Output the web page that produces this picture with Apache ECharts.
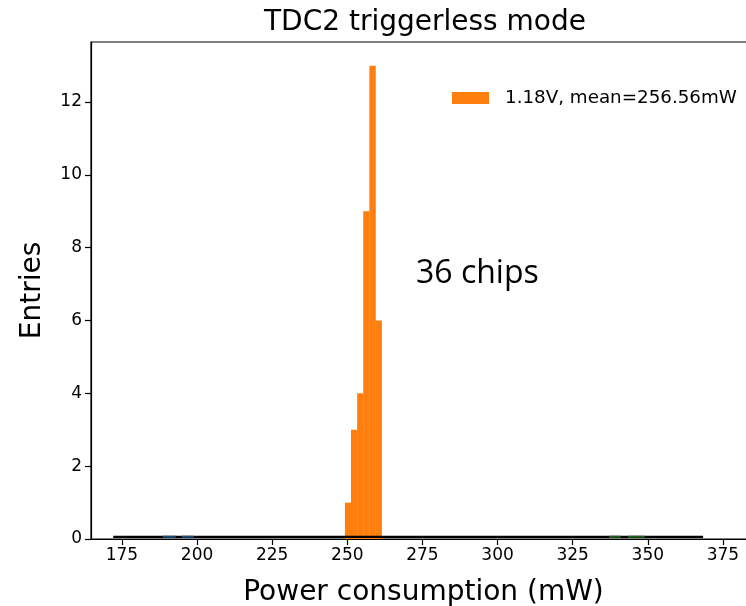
<!DOCTYPE html>
<html>
<head>
<meta charset="utf-8">
<title>TDC2 triggerless mode</title>
<script src="https://cdn.jsdelivr.net/npm/echarts@6/dist/echarts.min.js"></script>
<style>
  html, body { margin: 0; padding: 0; background: #fff; overflow: hidden; }
  #chart { width: 746px; height: 606px; }
</style>
</head>
<body>
<div id="chart"></div>
<script>
// Histogram of power consumption, 36 chips at 1.18 V
const binEdges = [249.2, 251.23, 253.27, 255.3, 257.33, 259.37, 261.4];
const binCounts = [1, 3, 4, 9, 13, 6];
const meanPower = 256.56;
const seriesName = '1.18V, mean=' + meanPower.toFixed(2) + 'mW';

// zero-count traces left along the baseline
const baselineRange = [172.1, 368.4];
const blueSegments = [[188.6, 192.9], [194.9, 198.9]];
const greenSegments = [[337.1, 341.0], [343.4, 349.0]];
const baselineLevel = 0.06;

// axis ranges and ticks
const xMin = 164.7, xMax = 386.0;
const yMin = 0, yMax = 13.65;
const xTicks = [175, 200, 225, 250, 275, 300, 325, 350, 375];
const yTicks = [0, 2, 4, 6, 8, 10, 12];

const FONT = 'DejaVu Sans';

function segmentSeries(segs, color) {
  const data = [];
  segs.forEach((s, i) => {
    if (i > 0) data.push([null, null]);
    data.push([s[0], baselineLevel], [s[1], baselineLevel]);
  });
  return {
    type: 'line', data: data, symbol: 'none', silent: true,
    connectNulls: false, z: 4,
    lineStyle: { color: color, width: 2 }
  };
}

const chart = echarts.init(document.getElementById('chart'), null, { renderer: 'canvas' });

chart.setOption({
  animation: false,
  backgroundColor: '#ffffff',
  textStyle: { fontFamily: FONT, color: '#000' },
  title: {
    text: 'TDC2 triggerless mode',
    left: 420, top: 4, textAlign: 'center',
    textStyle: { fontFamily: FONT, fontSize: 28, fontWeight: 'normal', color: '#000' }
  },
  legend: {
    data: [seriesName],
    left: 447, top: 84,
    itemWidth: 37, itemHeight: 12, itemGap: 8,
    icon: 'rect',
    textStyle: { fontFamily: FONT, fontSize: 18.3, color: '#000', padding: [0, 0, 0, 11] },
    itemStyle: { color: '#ff7f0e' }
  },
  grid: {
    left: 91, top: 42, width: 665, height: 497,
    outerBoundsMode: 'none',
    containLabel: false,
    show: true, borderColor: '#000', borderWidth: 1.2, backgroundColor: 'transparent'
  },
  xAxis: {
    type: 'value', min: xMin, max: xMax,
    name: 'Power consumption (mW)', nameLocation: 'middle', nameGap: 40,
    nameTextStyle: { fontFamily: FONT, fontSize: 28, color: '#000' },
    axisLine: { show: true, lineStyle: { color: '#000', width: 1.2 } },
    axisTick: { show: true, inside: false, length: 6, customValues: xTicks,
                lineStyle: { color: '#000', width: 1.2 } },
    axisLabel: { customValues: xTicks, margin: 8, fontFamily: FONT, fontSize: 17, color: '#000' },
    splitLine: { show: false }
  },
  yAxis: {
    type: 'value', min: yMin, max: yMax,
    name: 'Entries', nameLocation: 'middle', nameGap: 44, nameRotate: 90,
    nameTextStyle: { fontFamily: FONT, fontSize: 28, color: '#000' },
    axisLine: { show: true, lineStyle: { color: '#000', width: 1.2 } },
    axisTick: { show: true, inside: false, length: 6, customValues: yTicks,
                lineStyle: { color: '#000', width: 1.2 } },
    axisLabel: { customValues: yTicks, margin: 9, fontFamily: FONT, fontSize: 17, color: '#000' },
    splitLine: { show: false }
  },
  series: [
    {
      name: seriesName,
      type: 'custom',
      itemStyle: { color: '#ff7f0e' },
      data: binCounts.map((c, i) => [binEdges[i], binEdges[i + 1], c]),
      encode: { x: [0, 1], y: 2 },
      z: 3,
      renderItem: function (params, api) {
        const p0 = api.coord([api.value(0), 0]);
        const p1 = api.coord([api.value(1), api.value(2)]);
        return {
          type: 'rect',
          shape: { x: p0[0], y: p1[1], width: p1[0] - p0[0] + 0.3, height: p0[1] - p1[1] },
          style: { fill: '#ff7f0e' }
        };
      }
    },
    {
      type: 'line', silent: true, symbol: 'none', z: 4,
      data: [[baselineRange[0], baselineLevel], [baselineRange[1], baselineLevel]],
      lineStyle: { color: '#000', width: 2.2 }
    },
    segmentSeries(blueSegments, '#1b4a72'),
    segmentSeries(greenSegments, '#1f5a1f')
  ],
  graphic: [
    {
      type: 'text', x: 416, y: 274, z: 10,
      style: { text: '36 chips', fontFamily: 'Open Sans', fontSize: 32, fill: '#000',
               verticalAlign: 'middle' }
    }
  ]
});
</script>
</body>
</html>
